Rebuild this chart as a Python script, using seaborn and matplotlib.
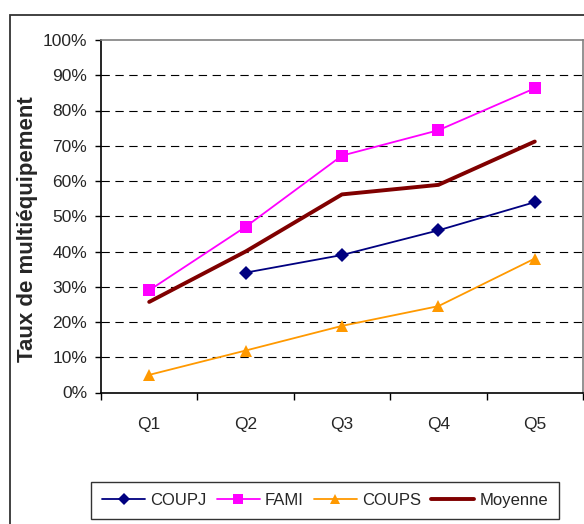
import matplotlib
matplotlib.use("Agg")
import matplotlib.pyplot as plt
import matplotlib.patches as mpatches
import seaborn as sns
import pandas as pd
import numpy as np
from matplotlib.ticker import FixedLocator, PercentFormatter

categories = ["Q1", "Q2", "Q3", "Q4", "Q5"]
coupj = [np.nan, 0.34, 0.39, 0.46, 0.54]
fami = [0.29, 0.47, 0.672, 0.744, 0.863]
coups = [0.05, 0.119, 0.189, 0.245, 0.38]
moyenne = [0.257, 0.40, 0.562, 0.589, 0.712]
series_names = ["COUPJ", "FAMI", "COUPS", "Moyenne"]
y_ticks = [0.0, 0.1, 0.2, 0.3, 0.4, 0.5, 0.6, 0.7, 0.8, 0.9, 1.0]

sns.set_style("white")
plt.rcParams["font.family"] = ["Liberation Sans", "DejaVu Sans"]

rows = []
for name, vals in zip(series_names, [coupj, fami, coups, moyenne]):
    for i, (c, v) in enumerate(zip(categories, vals)):
        rows.append({"pos": i, "cat": c, "serie": name, "val": v})
df = pd.DataFrame(rows)

W, H = 584, 524
fig = plt.figure(figsize=(W / 100, H / 100), dpi=100)
ax = fig.add_axes([101 / W, 1 - 392.5 / H, (583 - 101) / W, (392.5 - 40) / H])

# outer chart border
fig.patches.append(mpatches.Rectangle((10 / W, -0.1), 1.2, 1.1 - 15 / H,
                                      transform=fig.transFigure, fill=False,
                                      edgecolor="#333333", linewidth=1.3, zorder=0))

# gridlines
for t in y_ticks[1:-1]:
    ax.axhline(t, color="black", linewidth=0.8, linestyle=(0, (7.5, 5)), zorder=1)

colors = {"COUPJ": "#000080", "FAMI": "#FF00FF", "COUPS": "#FF9900", "Moyenne": "#800000"}
markers = {"COUPJ": "D", "FAMI": "s", "COUPS": "^", "Moyenne": ""}
msizes = {"COUPJ": 7, "FAMI": 8, "COUPS": 9, "Moyenne": 0}
lws = {"COUPJ": 1.3, "FAMI": 1.3, "COUPS": 1.3, "Moyenne": 2.8}

for name in series_names:
    sub = df[df.serie == name].dropna()
    sns.lineplot(data=sub, x="pos", y="val", ax=ax, color=colors[name],
                 linewidth=lws[name], marker=markers[name] if markers[name] else None,
                 markersize=msizes[name], markeredgewidth=0, zorder=3, label=name,
                 legend=False)

ax.set_xlim(-0.5, 4.5)
ax.set_ylim(0, 1.0)
ax.set_xlabel("")
ax.set_ylabel("Taux de multiéquipement", fontsize=16, fontweight="bold")
ax.yaxis.set_label_coords((38 - 101) / 482, (392.5 - 229) / 352.5)

ax.yaxis.set_major_locator(FixedLocator(y_ticks))
ax.yaxis.set_major_formatter(PercentFormatter(1.0, decimals=0))
ax.tick_params(axis="y", which="major", direction="out", length=4, width=1,
               color="black", labelsize=12.5, pad=6, left=True)

ax.set_xticks(range(5))
ax.set_xticklabels(categories)
ax.set_xticks(np.arange(-0.5, 5.0, 1.0), minor=True)
ax.tick_params(axis="x", which="major", length=0, labelsize=12.5, pad=18)
ax.tick_params(axis="x", which="minor", direction="out", length=5, width=1,
               color="black", bottom=True)

for s in ["left", "bottom"]:
    ax.spines[s].set_color("black")
    ax.spines[s].set_linewidth(1.2)
for s in ["top", "right"]:
    ax.spines[s].set_color("#808080")
    ax.spines[s].set_linewidth(1.2)
    ax.spines[s].set_visible(True)

h, l = ax.get_legend_handles_labels()
leg = fig.legend(h, l, loc="center", bbox_to_anchor=(325 / W, 1 - 500.5 / H), ncol=4,
                 frameon=True, fancybox=False, edgecolor="black", fontsize=12,
                 handlelength=2.6, handletextpad=0.3, columnspacing=0.6,
                 borderpad=0.65, borderaxespad=0, markerscale=0.85)
leg.get_frame().set_linewidth(1.0)

fig.savefig("out.png", dpi=100)
